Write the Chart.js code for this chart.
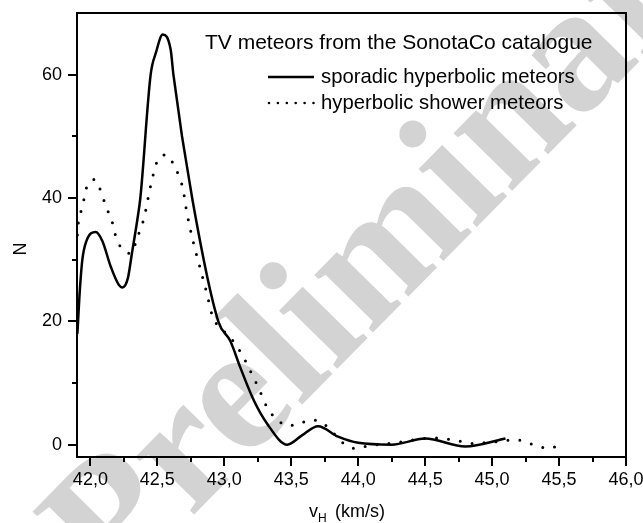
<!DOCTYPE html>
<html>
<head>
<meta charset="utf-8">
<script src="https://cdn.jsdelivr.net/npm/chart.js@4.4.1/dist/chart.umd.min.js"></script>
<style>
  html, body { margin: 0; padding: 0; background: #fff; }
  #wrap { width: 643px; height: 523px; }
</style>
</head>
<body>
<div id="wrap"><canvas id="chart" width="643" height="523"></canvas></div>
<script>
// velocity (km/s) and counts
const sporadicV = [41.903, 41.918, 41.94, 41.97, 42.04, 42.09, 42.15, 42.21, 42.24, 42.28, 42.31, 42.35, 42.373,
  42.45, 42.49, 42.54, 42.60, 42.62, 42.76, 42.955, 43.045, 43.12, 43.22, 43.32, 43.47, 43.58, 43.70, 43.85,
  44.00, 44.25, 44.50, 44.80, 45.10]
const sporadicN = [18, 24, 30, 33, 34.5, 33, 29, 26, 25.5, 27, 31, 36.4, 40,
  60, 63.6, 66.5, 64, 60, 40, 20, 16.8, 12.5, 7.2, 3.4, 0, 1.5, 3, 1.3,
  0.3, 0, 1, -0.3, 1]

const showerV = [41.903, 41.91, 41.94, 41.97, 42.03, 42.08, 42.11, 42.17, 42.19, 42.24, 42.30, 42.34, 42.37, 42.40,
  42.45, 42.50, 42.57, 42.62, 42.66, 42.69, 42.72, 42.77, 42.82, 42.87, 42.91, 43.045, 43.105, 43.155, 43.20,
  43.24, 43.28, 43.32, 43.38, 43.47, 43.55, 43.64, 43.73, 43.81, 43.89, 43.98, 44.07, 44.24, 44.575, 44.75,
  44.84, 44.99, 45.18, 45.26, 45.43, 45.50]
const showerN = [34, 36, 38.5, 41.6, 43, 41, 39, 35.6, 33.7, 31.7, 31, 32.8, 34.8, 36.7,
  42, 46, 47, 45.5, 43.6, 41.6, 37.7, 32.7, 28.6, 24.5, 21, 17.4, 15.6, 13.7, 11.7,
  9.9, 8, 6, 4.4, 3.1, 3.3, 4, 3.6, 2, 0.2, -0.6, -0.2, 0.2, 1.1, 0.6,
  0.2, 0.4, 0.8, 0.3, -0.6, 0]

const xTicks = [42.0, 42.5, 43.0, 43.5, 44.0, 44.5, 45.0, 45.5, 46.0]
const xMinor = [42.25, 42.75, 43.25, 43.75, 44.25, 44.75, 45.25, 45.75]
const yTicks = [0, 20, 40, 60]
const yMinor = [10, 30, 50]

const legendTitle = "TV meteors from the SonotaCo catalogue"
const seriesNames = ["sporadic hyperbolic meteors", "hyperbolic shower meteors"]

const FONT = "'Liberation Sans', Arial, sans-serif"

const toPoints = (xs, ys) => xs.map((x, i) => ({ x: x, y: ys[i] }))

// no extra label padding, so the plot box stays where it is in the figure
const noPad = (scale) => {
  scale.paddingLeft = 0
  scale.paddingRight = 0
  scale.paddingTop = 0
  scale.paddingBottom = 0
}

// white page + watermark behind everything
const backdrop = {
  id: "backdrop",
  beforeDraw(chart) {
    const ctx = chart.ctx
    ctx.save()
    ctx.fillStyle = "#fff"
    ctx.fillRect(0, 0, chart.width, chart.height)
    ctx.translate(114, 596)
    ctx.rotate(-45.5 * Math.PI / 180)
    ctx.font = "bold 179px 'Liberation Serif', 'Times New Roman', serif"
    ctx.fillStyle = "#d3d3d3"
    ctx.textBaseline = "alphabetic"
    ctx.fillText("Preliminary", 0, 0)
    ctx.restore()
  }
}

// frame, minor ticks, axis titles, legend
const decorations = {
  id: "decorations",
  afterDraw(chart) {
    const ctx = chart.ctx
    const area = chart.chartArea
    const xs = chart.scales.x
    const ys = chart.scales.y
    ctx.save()
    ctx.strokeStyle = "#000"
    ctx.lineWidth = 2
    ctx.strokeRect(area.left, area.top, area.right - area.left, area.bottom - area.top)

    ctx.beginPath()
    xMinor.forEach(v => {
      const px = Math.round(xs.getPixelForValue(v))
      ctx.moveTo(px, area.bottom)
      ctx.lineTo(px, area.bottom + 5)
    })
    yMinor.forEach(v => {
      const py = Math.round(ys.getPixelForValue(v))
      ctx.moveTo(area.left, py)
      ctx.lineTo(area.left - 5, py)
    })
    ctx.stroke()

    ctx.fillStyle = "#000"
    ctx.textBaseline = "middle"

    // y title
    ctx.save()
    ctx.translate(21, 249)
    ctx.rotate(-Math.PI / 2)
    ctx.font = "18px " + FONT
    ctx.textAlign = "center"
    ctx.fillText("N", 0, 0)
    ctx.restore()

    // x title with subscript
    ctx.textAlign = "left"
    ctx.textBaseline = "alphabetic"
    ctx.font = "18px " + FONT
    ctx.fillText("v", 309, 517)
    ctx.font = "12px " + FONT
    ctx.fillText("H", 318, 522)
    ctx.font = "18px " + FONT
    ctx.fillText("(km/s)", 335, 517)

    // legend
    ctx.textBaseline = "middle"
    ctx.font = "21px " + FONT
    ctx.fillText(legendTitle, 205, 43)
    ctx.font = "20.3px " + FONT
    ctx.fillText(seriesNames[0], 321, 77)
    ctx.fillText(seriesNames[1], 321, 103)

    ctx.lineWidth = 2.5
    ctx.beginPath()
    ctx.moveTo(268, 77)
    ctx.lineTo(314, 77)
    ctx.stroke()

    ctx.beginPath()
    for (let i = 0; i < 6; i++) {
      ctx.moveTo(269 + i * 8.9 + 1.3, 103)
      ctx.arc(269 + i * 8.9, 103, 1.3, 0, Math.PI * 2)
    }
    ctx.fill()
    ctx.restore()
  }
}

new Chart(document.getElementById("chart"), {
  type: "line",
  data: {
    datasets: [
      {
        label: seriesNames[0],
        data: toPoints(sporadicV, sporadicN),
        borderColor: "#000",
        borderWidth: 2.5,
        pointRadius: 0,
        cubicInterpolationMode: "monotone",
        fill: false
      },
      {
        label: seriesNames[1],
        data: toPoints(showerV, showerN),
        borderColor: "#000",
        borderWidth: 3,
        borderDash: [0, 12],
        borderCapStyle: "round",
        pointRadius: 0,
        cubicInterpolationMode: "monotone",
        fill: false
      }
    ]
  },
  options: {
    responsive: false,
    animation: false,
    devicePixelRatio: 1,
    layout: { padding: { top: 13, right: 17, left: 0, bottom: 0 } },
    plugins: {
      legend: { display: false },
      tooltip: { enabled: false }
    },
    scales: {
      x: {
        type: "linear",
        min: 41.9,
        max: 46.0,
        afterBuildTicks: (scale) => { scale.ticks = xTicks.map(v => ({ value: v })) },
        afterFit: (scale) => { scale.height = 66; noPad(scale) },
        ticks: {
          color: "#000",
          font: { family: FONT, size: 18 },
          padding: 3,
          maxRotation: 0,
          autoSkip: false,
          callback: (v) => v.toFixed(1).replace(".", ",")
        },
        grid: { drawOnChartArea: false, drawTicks: true, tickLength: 9, lineWidth: 2, color: "#000" },
        border: { display: true, width: 2, color: "#000" }
      },
      y: {
        type: "linear",
        min: -2,
        max: 70,
        afterBuildTicks: (scale) => { scale.ticks = yTicks.map(v => ({ value: v })) },
        afterFit: (scale) => { scale.width = 77; noPad(scale) },
        ticks: {
          color: "#000",
          font: { family: FONT, size: 18 },
          padding: 6,
          autoSkip: false,
          callback: (v) => String(v)
        },
        grid: { drawOnChartArea: false, drawTicks: true, tickLength: 9, lineWidth: 2, color: "#000" },
        border: { display: true, width: 2, color: "#000" }
      }
    }
  },
  plugins: [backdrop, decorations]
})
</script>
</body>
</html>
